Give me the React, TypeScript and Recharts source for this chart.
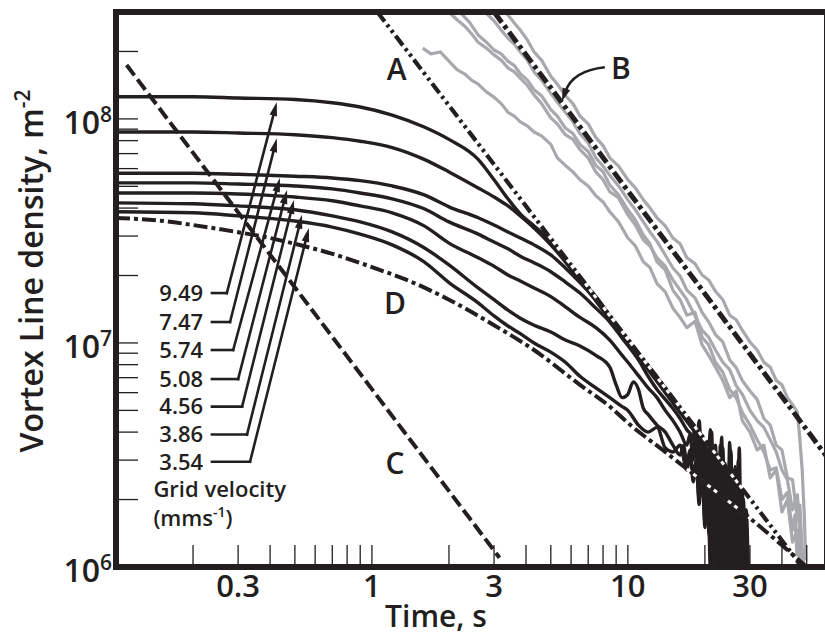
import React from 'react';
import { LineChart, Line, XAxis, YAxis, ReferenceLine, ReferenceDot } from 'recharts';

const FONT = "'Open Sans', 'Noto Sans', sans-serif";
const INK = '#231f20';
const GRAY = '#a7a9ac';

// ---------- axes ----------
const xTicks = [0.2, 0.3, 0.4, 0.5, 0.6, 0.7, 0.8, 0.9, 1, 2, 3, 4, 5, 6, 7, 8, 9, 10, 20, 30, 40, 50];
const xLabelValues = [0.3, 1, 3, 10, 30];
const xLabelText = ['0.3', '1', '3', '10', '30'];
const yTicks = [1e6, 2e6, 3e6, 4e6, 5e6, 6e6, 7e6, 8e6, 9e6, 1e7, 2e7, 3e7, 4e7, 5e7, 6e7, 7e7, 8e7, 9e7, 1e8, 2e8];
const yLabelValues = [1e6, 1e7, 1e8];
const yLabelExp = ['6', '7', '8'];

// ---------- grid-velocity curves (black) ----------
const v949T = [0.1,0.2,0.3,0.5,0.7,0.9,1.2,1.6,2.0,2.6,3.0,3.4,3.8,4.3,5.0,5.7,6.5,7.5,8.5,10,12,14,16,18,20,20.5,21,21.5,22,22.5,23,23.5,24,24.5,25,25.5,26,26.5,27,27.5,28,28.5,29,29.5];
const v949N = [1.255e8,1.255e8,1.24e8,1.22e8,1.18e8,1.13e8,1.04e8,9.2e7,8.1e7,6.6e7,5.35e7,4.4e7,3.77e7,3.33e7,2.85e7,2.37e7,1.95e7,1.61e7,1.32e7,1.03e7,7.9e6,6.3e6,5.1e6,4.25e6,3.65e6,2.6e6,3.9e6,1.8e6,3.5e6,1.0e6,3.3e6,1.4e6,2.9e6,1.0e6,3.6e6,1.2e6,2.6e6,1.0e6,3.0e6,1.0e6,2.2e6,1.0e6,1.8e6,1.0e6];

const v747T = [0.1,0.2,0.3,0.5,0.7,0.9,1.2,1.6,2.0,2.6,3.0,3.4,3.8,4.3,5.0,5.7,6.5,7.5,8.5,10,12,14,16,18,20,20.75,21.25,21.75,22.25,22.75,23.25,23.75,24.25,24.75,25.25,25.75,26.25,26.75,27.25,27.75,28.25,28.75];
const v747N = [8.74e7,8.74e7,8.65e7,8.5e7,8.25e7,7.95e7,7.45e7,6.6e7,5.8e7,4.92e7,4.48e7,4.09e7,3.69e7,3.26e7,2.74e7,2.3e7,1.89e7,1.54e7,1.27e7,9.9e6,7.6e6,6.0e6,4.9e6,4.1e6,3.47e6,2.2e6,4.0e6,1.0e6,3.0e6,1.3e6,3.8e6,1.0e6,2.6e6,1.1e6,3.2e6,1.0e6,2.8e6,1.0e6,3.4e6,1.0e6,2.0e6,1.0e6];

const v574T = [0.1,0.2,0.3,0.5,0.7,0.9,1.2,1.6,2.0,2.6,3.0,3.4,3.8,4.3,5.0,5.7,6.5,7.5,8.5,10,12,14,16,18,18.5,19,19.5,20,20.5,21,21.5,22,22.5,23,23.5,24,24.5,25,25.5,26,26.5,27,27.5,28,28.5];
const v574N = [5.72e7,5.72e7,5.66e7,5.55e7,5.45e7,5.3e7,5.02e7,4.58e7,4.05e7,3.62e7,3.36e7,3.13e7,2.94e7,2.74e7,2.47e7,2.16e7,1.86e7,1.56e7,1.3e7,1.01e7,7.76e6,6.14e6,4.95e6,4.2e6,3.3e6,4.5e6,2.5e6,3.6e6,1.6e6,4.1e6,1.2e6,3.0e6,1.0e6,3.5e6,1.0e6,2.4e6,1.0e6,3.0e6,1.3e6,2.7e6,1.0e6,2.45e6,1.0e6,1.9e6,1.0e6];

const v508T = [0.1,0.2,0.3,0.5,0.7,0.9,1.2,1.6,2.0,2.6,3.0,3.4,3.8,4.3,5.0,5.7,6.5,7.5,8.5,9.5,11,12,13,14,15,16,17,18,18.75,19.25,19.75,20.25,20.75,21.25,21.75,22.25,22.75,23.25,23.75,24.25,24.75,25.25,25.75,26.25,26.75];
const v508N = [5.18e7,5.18e7,5.12e7,5.02e7,4.87e7,4.67e7,4.4e7,3.97e7,3.47e7,3.06e7,2.82e7,2.63e7,2.44e7,2.28e7,2.08e7,1.87e7,1.67e7,1.43e7,1.24e7,1.05e7,8.4e6,7.1e6,6.2e6,5.6e6,5.1e6,4.6e6,4.1e6,3.77e6,3.0e6,3.9e6,2.2e6,3.4e6,1.4e6,3.6e6,1.0e6,2.8e6,1.0e6,3.1e6,1.2e6,2.5e6,1.0e6,3.3e6,1.0e6,2.2e6,1.0e6];

const v456T = [0.1,0.2,0.3,0.5,0.7,0.9,1.2,1.6,2.0,2.6,3.0,3.4,3.8,4.3,5.0,5.7,6.5,7.5,8.5,9.5,10,11,12,13,14,15,16,17,17.5,18,18.5,19,19.5,20,20.5,21,21.5,22,22.5,23,23.5,24,24.5,25,25.5,26,26.5,27];
const v456N = [4.67e7,4.67e7,4.62e7,4.48e7,4.31e7,4.09e7,3.81e7,3.33e7,2.79e7,2.4e7,2.2e7,2.01e7,1.89e7,1.76e7,1.61e7,1.45e7,1.3e7,1.17e7,1.03e7,8.8e6,8.2e6,7.15e6,6.3e6,5.7e6,5.0e6,4.5e6,4.0e6,3.5e6,3.9e6,3.0e6,4.1e6,2.4e6,3.5e6,1.9e6,3.2e6,1.3e6,3.0e6,1.0e6,2.7e6,1.0e6,3.4e6,1.0e6,2.45e6,1.0e6,2.0e6,1.0e6,2.3e6,1.0e6];

const v386T = [0.1,0.2,0.3,0.5,0.7,0.9,1.2,1.6,2.0,2.6,3.0,3.4,3.8,4.3,5.0,5.7,6.5,7.5,8.5,9.0,9.5,10,10.5,11,11.5,12,13,14,15,16,16.5,17,17.5,18,18.5,19,19.5,20,20.5,21,21.5,22,22.5,23,23.5,24,24.5,25,25.5,26];
const v386N = [4.22e7,4.18e7,4.09e7,3.93e7,3.69e7,3.47e7,3.13e7,2.66e7,2.23e7,1.76e7,1.56e7,1.4e7,1.29e7,1.2e7,1.12e7,1.03e7,9.7e6,8.8e6,7.8e6,6.5e6,5.7e6,5.9e6,6.7e6,6.2e6,5.1e6,4.8e6,4.3e6,4.0e6,3.5e6,3.16e6,3.5e6,2.9e6,3.33e6,2.4e6,3.0e6,1.9e6,3.5e6,1.5e6,2.8e6,1.0e6,3.0e6,1.0e6,2.5e6,1.0e6,2.7e6,1.2e6,2.3e6,1.0e6,2.0e6,1.0e6];

const v354T = [0.1,0.2,0.3,0.5,0.7,0.9,1.2,1.6,2.0,2.6,3.0,3.4,3.8,4.3,5.0,5.7,6.5,7.5,8.5,9.5,10,11,12,13,14,15,16,17,17.5,18,18.5,19,19.5,20,20.5,21,21.5,22,22.5,23,23.5,24,24.5,25,25.5,26,27,28,29,29.5];
const v354N = [3.85e7,3.81e7,3.69e7,3.5e7,3.29e7,3.06e7,2.74e7,2.3e7,1.86e7,1.51e7,1.32e7,1.19e7,1.1e7,1.0e7,9.1e6,8.2e6,7.1e6,6.3e6,5.7e6,5.2e6,5.0e6,4.3e6,4.0e6,4.2e6,3.4e6,3.26e6,3.5e6,2.71e6,3.1e6,2.6e6,2.94e6,2.0e6,2.6e6,1.6e6,2.58e6,1.2e6,2.3e6,1.0e6,2.6e6,1.0e6,2.0e6,1.0e6,2.4e6,1.0e6,1.9e6,1.0e6,1.6e6,1.0e6,1.5e6,1.0e6];

// ---------- gray traces ----------
const g1T = [1.58,1.7,1.85,2.0,2.15,2.3,2.45,2.6,2.8,3.0,3.2,3.4,3.6,3.8,4.05,4.3,4.6,5.0,5.3,5.7,6.1,6.5,7.0,7.5,8.0,8.5,9.2,10,10.7,11.5,12.2,13,14,15,16,17,18.3,19.5,20.7,22,23.5,25,26.5,28,30,32,34,36,38,40,42,44,46,47];
const g1N = [2.07e8,1.95e8,1.99e8,1.81e8,1.66e8,1.59e8,1.49e8,1.43e8,1.32e8,1.25e8,1.17e8,1.07e8,1.03e8,9.7e7,9.3e7,8.74e7,8.4e7,7.7e7,6.7e7,6.2e7,5.8e7,5.35e7,5.02e7,4.54e7,4.26e7,3.85e7,3.47e7,2.94e7,2.71e7,2.3e7,2.17e7,1.84e7,1.69e7,1.43e7,1.3e7,1.17e7,1.25e7,9.8e6,8.8e6,7.8e6,6.8e6,5.7e6,6.1e6,4.5e6,4.0e6,3.33e6,3.5e6,2.5e6,2.71e6,1.76e6,2.0e6,1.29e6,1.46e6,1.0e6];

const g2T = [2.0,2.15,2.3,2.45,2.6,2.8,3.0,3.2,3.4,3.6,3.8,4.05,4.3,4.6,5.0,5.3,5.7,6.1,6.5,7.0,7.5,8.0,8.5,9.2,10,10.7,11.5,12.2,13,14,15,16,17,18.3,19.5,20.7,22,23.5,25,26.5,28,30,32,34,36,38,40,42,44,46,47,48];
const g2N = [3.0e8,2.77e8,2.6e8,2.4e8,2.2e8,2.07e8,1.93e8,1.83e8,1.69e8,1.62e8,1.52e8,1.41e8,1.28e8,1.17e8,1.01e8,9.5e7,8.5e7,8.1e7,7.3e7,6.7e7,5.8e7,5.35e7,4.73e7,4.44e7,3.73e7,3.36e7,2.88e7,2.71e7,2.4e7,2.2e7,1.91e7,1.72e7,1.56e7,1.32e7,1.14e7,1.06e7,9.3e6,8.2e6,7.6e6,6.45e6,5.9e6,5.0e6,4.5e6,4.2e6,3.7e6,3.26e6,2.71e6,2.45e6,1.8e6,2.1e6,1.32e6,1.0e6];

const g3T = [2.6,2.8,3.0,3.2,3.4,3.6,3.8,4.05,4.3,4.6,5.0,5.3,5.7,6.1,6.5,7.0,7.5,8.0,8.5,9.2,10,10.7,11.5,12.2,13,14,15,16,17,18.3,19.5,20.7,22,23.5,25,26.5,28,30,32,34,36,38,40,42,44,46,47,48,49];
const g3N = [3.0e8,2.96e8,2.74e8,2.49e8,2.29e8,2.16e8,1.99e8,1.83e8,1.62e8,1.49e8,1.3e8,1.19e8,1.07e8,9.7e7,8.6e7,7.8e7,6.7e7,6.15e7,5.6e7,5.02e7,4.35e7,3.93e7,3.47e7,3.13e7,2.84e7,2.47e7,2.16e7,1.99e7,1.72e7,1.59e7,1.37e7,1.24e7,1.09e7,1.01e7,8.4e6,7.76e6,6.8e6,6.1e6,5.6e6,4.6e6,4.3e6,3.5e6,3.33e6,2.5e6,2.45e6,1.62e6,1.89e6,1.19e6,1.0e6];

const g4T = [3.3,3.4,3.6,3.8,4.05,4.3,4.6,5.0,5.3,5.7,6.1,6.5,7.0,7.5,8.0,8.5,9.2,10,10.7,11.5,12.2,13,14,15,16,17,18.3,19.5,20.7,22,23.5,25,26.5,28,30,32,34,36,38,40,42,44,46,47,48,49,49.5];
const g4N = [3.0e8,2.91e8,2.68e8,2.49e8,2.25e8,1.99e8,1.83e8,1.55e8,1.43e8,1.27e8,1.17e8,1.03e8,9.5e7,8.25e7,7.6e7,6.7e7,6.15e7,5.35e7,4.92e7,4.35e7,4.01e7,3.62e7,3.33e7,2.94e7,2.77e7,2.4e7,2.26e7,2.01e7,1.91e7,1.7e7,1.56e7,1.33e7,1.27e7,1.14e7,1.01e7,9.3e6,8.2e6,7.8e6,6.8e6,6.5e6,5.7e6,5.3e6,4.9e6,3.7e6,2.71e6,1.62e6,1.07e6];

const g5T = [2.2,2.4,2.6,2.8,3.0,3.2,3.4,3.6,3.8,4.05,4.3,4.6,5.0,5.3,5.7,6.1,6.5,7.0,7.5,8.0,8.5,9.2,10,10.7,11.5,12.2,13,14,15,16,17,18.3,19.5,20.7,22,23.5,25,26.5,28,30,32,34,36,38,40,42,44,45,46];
const g5N = [3.0e8,2.71e8,2.37e8,2.2e8,2.03e8,1.95e8,1.81e8,1.73e8,1.59e8,1.49e8,1.35e8,1.27e8,1.1e8,1.03e8,9.1e7,8.6e7,7.7e7,7.15e7,6.2e7,5.8e7,5.07e7,4.58e7,3.93e7,3.54e7,3.03e7,2.77e7,2.3e7,2.12e7,1.72e7,1.56e7,1.33e7,1.37e7,1.06e7,9.8e6,8.2e6,7.4e6,6.2e6,5.7e6,4.9e6,4.3e6,3.7e6,3.26e6,2.71e6,2.77e6,2.0e6,2.15e6,1.46e6,1.71e6,1.0e6];

// ---------- model lines ----------
const lineAT = [1.05, 48];
const lineAN = [3.0e8, 1.0e6];
const lineBT = [3.0, 60];
const lineBN = [3.0e8, 3.1e6];
const lineCT = [0.11, 3.15];
const lineCN = [1.74e8, 1.1e6];
const lineDT = [0.1,0.15,0.2,0.3,0.4,0.5,0.7,1.0,1.4,2.0,3.0,4.3,6.5,8.5,10,14,20,28,40,50];
const lineDN = [3.61e7,3.51e7,3.36e7,3.12e7,2.94e7,2.77e7,2.5e7,2.18e7,1.89e7,1.56e7,1.2e7,9.3e6,6.5e6,5.2e6,4.4e6,3.26e6,2.37e6,1.76e6,1.25e6,1.0e6];

// ---------- annotations ----------
const velocityLabels = ['9.49', '7.47', '5.74', '5.08', '4.56', '3.86', '3.54'];
const labelTextT = 0.219;
const labelStubT = 0.237;
const labelN = [1.67e7, 1.24e7, 9.3e6, 6.9e6, 5.2e6, 3.9e6, 2.95e6];
const cornerT = [0.271, 0.279, 0.287, 0.3, 0.311, 0.325, 0.334];
const tipT = [0.425, 0.425, 0.437, 0.466, 0.496, 0.533, 0.567];
const tipN = [1.19e8, 8.2e7, 5.45e7, 4.82e7, 4.35e7, 3.73e7, 3.26e7];
const letters = ['A', 'B', 'C', 'D'];
const letterT = [1.25, 9.4, 1.23, 1.23];
const letterN = [1.66e8, 1.69e8, 2.91e6, 1.51e7];
const bArrowFrom = { t: 8.13, n: 1.7e8 };
const bArrowTo = { t: 5.53, n: 1.2e8 };
const gridTitleT = 0.14;
const gridTitleN = [2.22e6, 1.66e6];

const zip = (ts: number[], ns: number[]) => ts.map((t, i) => ({ t, n: ns[i] }));

const blackSeries = [
  zip(v949T, v949N), zip(v747T, v747N), zip(v574T, v574N), zip(v508T, v508N),
  zip(v456T, v456N), zip(v386T, v386N), zip(v354T, v354N),
];
const graySeries = [zip(g1T, g1N), zip(g2T, g2N), zip(g3T, g3N), zip(g4T, g4N), zip(g5T, g5N)];
const dataA = zip(lineAT, lineAN);
const dataB = zip(lineBT, lineBN);
const dataC = zip(lineCT, lineCN);
const dataD = zip(lineDT, lineDN);

const txt = { fontFamily: FONT, fontWeight: 600, fill: INK } as const;

const XTick = (props: any) => {
  const { x, payload } = props;
  const i = xLabelValues.indexOf(payload.value);
  if (i < 0) return <g />;
  return (
    <text x={x} y={597} textAnchor="middle" fontSize={31} {...txt}>
      {xLabelText[i]}
    </text>
  );
};

const YTick = (props: any) => {
  const { y, payload } = props;
  const i = yLabelValues.indexOf(payload.value);
  if (i < 0) return <g />;
  return (
    <g>
      <text x={100} y={y + 15} textAnchor="end" fontSize={32} {...txt}>10</text>
      <text x={100} y={y + 3} textAnchor="start" fontSize={21} {...txt}>{yLabelExp[i]}</text>
    </g>
  );
};

const TimeTitle = () => (
  <text x={436} y={627} textAnchor="middle" fontSize={30} {...txt}>Time, s</text>
);

const YTitle = () => (
  <text transform="translate(43,271) rotate(-90)" textAnchor="middle" fontSize={32} {...txt}>
    Vortex Line density, m<tspan dy={-13} fontSize={21}>-2</tspan>
  </text>
);

const arrowShape = (props: any) => {
  const { x1, y1, x2, y2 } = props;
  const dx = x2 - x1, dy = y2 - y1;
  const L = Math.hypot(dx, dy) || 1;
  const ux = dx / L, uy = dy / L;
  const hl = 14, hw = 3.8;
  const bx = x2 - ux * hl, by = y2 - uy * hl;
  return (
    <g>
      <line x1={x1} y1={y1} x2={bx + ux * 3} y2={by + uy * 3} stroke={INK} strokeWidth={2.6} strokeLinecap="square" />
      <polygon points={`${x2},${y2} ${bx - uy * hw},${by + ux * hw} ${bx + uy * hw},${by - ux * hw}`} fill={INK} />
    </g>
  );
};

const stubShape = (props: any) => {
  const { x1, y1, x2, y2 } = props;
  return <line x1={x1} y1={y1} x2={x2} y2={y2} stroke={INK} strokeWidth={2.6} strokeLinecap="square" />;
};

const curveArrowShape = (props: any) => {
  const { x1, y1, x2, y2 } = props;
  const cx = x2 + 0.25 * (x1 - x2);
  const cy = y1 + 0.1 * (y2 - y1);
  const dx = x2 - cx, dy = y2 - cy;
  const L = Math.hypot(dx, dy) || 1;
  const ux = dx / L, uy = dy / L;
  const hl = 13, hw = 4;
  const bx = x2 - ux * hl, by = y2 - uy * hl;
  return (
    <g>
      <path d={`M${x1},${y1} Q${cx},${cy} ${bx + ux * 3},${by + uy * 3}`} fill="none" stroke={INK} strokeWidth={2.6} />
      <polygon points={`${x2},${y2} ${bx - uy * hw},${by + ux * hw} ${bx + uy * hw},${by - ux * hw}`} fill={INK} />
    </g>
  );
};

const textShape = (text: string, size: number, anchor: 'start' | 'middle' | 'end') => (props: any) => (
  <text x={props.cx} y={props.cy + size * 0.36} textAnchor={anchor} fontSize={size} {...txt}>{text}</text>
);

const unitShape = (props: any) => (
  <text x={props.cx} y={props.cy + 8} textAnchor="start" fontSize={22} {...txt}>
    (mms<tspan dy={-9} fontSize={14}>-1</tspan><tspan dy={9}>)</tspan>
  </text>
);

const tickLineStyle = { stroke: INK, strokeWidth: 1.3 };
const axisLineStyle = { stroke: INK, strokeWidth: 6, strokeLinecap: 'square' as const };

export default function App() {
  return (
    <div>
      <style>{'body{margin:0;overflow:hidden;background:#fff}'}</style>
      <LineChart width={850} height={636} margin={{ top: 0, right: 10, bottom: 0, left: 0 }}>
        <XAxis
          dataKey="t" type="number" scale="log" domain={[0.1, 60]} allowDataOverflow
          ticks={xTicks} interval={0} tick={XTick} tickSize={-22} tickLine={tickLineStyle}
          axisLine={axisLineStyle} height={69} label={TimeTitle}
        />
        <XAxis
          xAxisId="top" orientation="top" dataKey="t" type="number" scale="log" domain={[0.1, 60]} allowDataOverflow
          ticks={xTicks} interval={0} tick={false} tickSize={-22} tickLine={tickLineStyle}
          axisLine={axisLineStyle} height={12}
        />
        <YAxis
          type="number" scale="log" domain={[1e6, 3e8]} allowDataOverflow
          ticks={yTicks} interval={0} tick={YTick} tickSize={-22} tickLine={tickLineStyle}
          axisLine={axisLineStyle} width={116} label={YTitle}
        />
        <YAxis
          yAxisId="right" orientation="right" type="number" scale="log" domain={[1e6, 3e8]} allowDataOverflow
          ticks={yTicks} interval={0} tick={false} tickSize={-22} tickLine={tickLineStyle}
          axisLine={axisLineStyle} width={13}
        />

        {graySeries.map((d, i) => (
          <Line key={'g' + i} data={d} dataKey="n" type="linear" stroke={GRAY} strokeWidth={3.2}
            dot={false} activeDot={false} isAnimationActive={false} strokeLinejoin="round" />
        ))}
        {blackSeries.map((d, i) => (
          <Line key={'b' + i} data={d} dataKey="n" type="monotone" stroke={INK} strokeWidth={3.4}
            dot={false} activeDot={false} isAnimationActive={false} strokeLinejoin="round" />
        ))}

        <Line data={dataD} dataKey="n" type="monotone" stroke="#fff" strokeWidth={3} dot={false} activeDot={false} isAnimationActive={false} />
        <Line data={dataA} dataKey="n" type="linear" stroke="#fff" strokeWidth={3} dot={false} activeDot={false} isAnimationActive={false} />
        <Line data={dataB} dataKey="n" type="linear" stroke="#fff" strokeWidth={3.5} dot={false} activeDot={false} isAnimationActive={false} />

        <Line data={dataD} dataKey="n" type="monotone" stroke={INK} strokeWidth={4} strokeDasharray="14 4 4 4" dot={false} activeDot={false} isAnimationActive={false} />
        <Line data={dataA} dataKey="n" type="linear" stroke={INK} strokeWidth={4.2} strokeDasharray="12 4 3 4 3 4" dot={false} activeDot={false} isAnimationActive={false} />
        <Line data={dataB} dataKey="n" type="linear" stroke={INK} strokeWidth={5} strokeDasharray="13 4 4 4" dot={false} activeDot={false} isAnimationActive={false} />
        <Line data={dataC} dataKey="n" type="linear" stroke={INK} strokeWidth={4} strokeDasharray="13 5" dot={false} activeDot={false} isAnimationActive={false} />

        {velocityLabels.map((v, i) => (
          <ReferenceLine key={'s' + i} segment={[{ x: labelStubT, y: labelN[i] }, { x: cornerT[i], y: labelN[i] }]} shape={stubShape} />
        ))}
        {velocityLabels.map((v, i) => (
          <ReferenceLine key={'a' + i} segment={[{ x: cornerT[i], y: labelN[i] }, { x: tipT[i], y: tipN[i] }]} shape={arrowShape} />
        ))}
        {velocityLabels.map((v, i) => (
          <ReferenceDot key={'l' + i} x={labelTextT} y={labelN[i]} r={1} shape={textShape(v, 22, 'end')} />
        ))}
        <ReferenceDot x={gridTitleT} y={gridTitleN[0]} r={1} shape={textShape('Grid velocity', 22, 'start')} />
        <ReferenceDot x={gridTitleT} y={gridTitleN[1]} r={1} shape={unitShape} />

        {letters.map((l, i) => (
          <ReferenceDot key={'L' + l} x={letterT[i]} y={letterN[i]} r={1} shape={textShape(l, 30, 'middle')} />
        ))}
        <ReferenceLine segment={[{ x: bArrowFrom.t, y: bArrowFrom.n }, { x: bArrowTo.t, y: bArrowTo.n }]} shape={curveArrowShape} />
      </LineChart>
    </div>
  );
}
